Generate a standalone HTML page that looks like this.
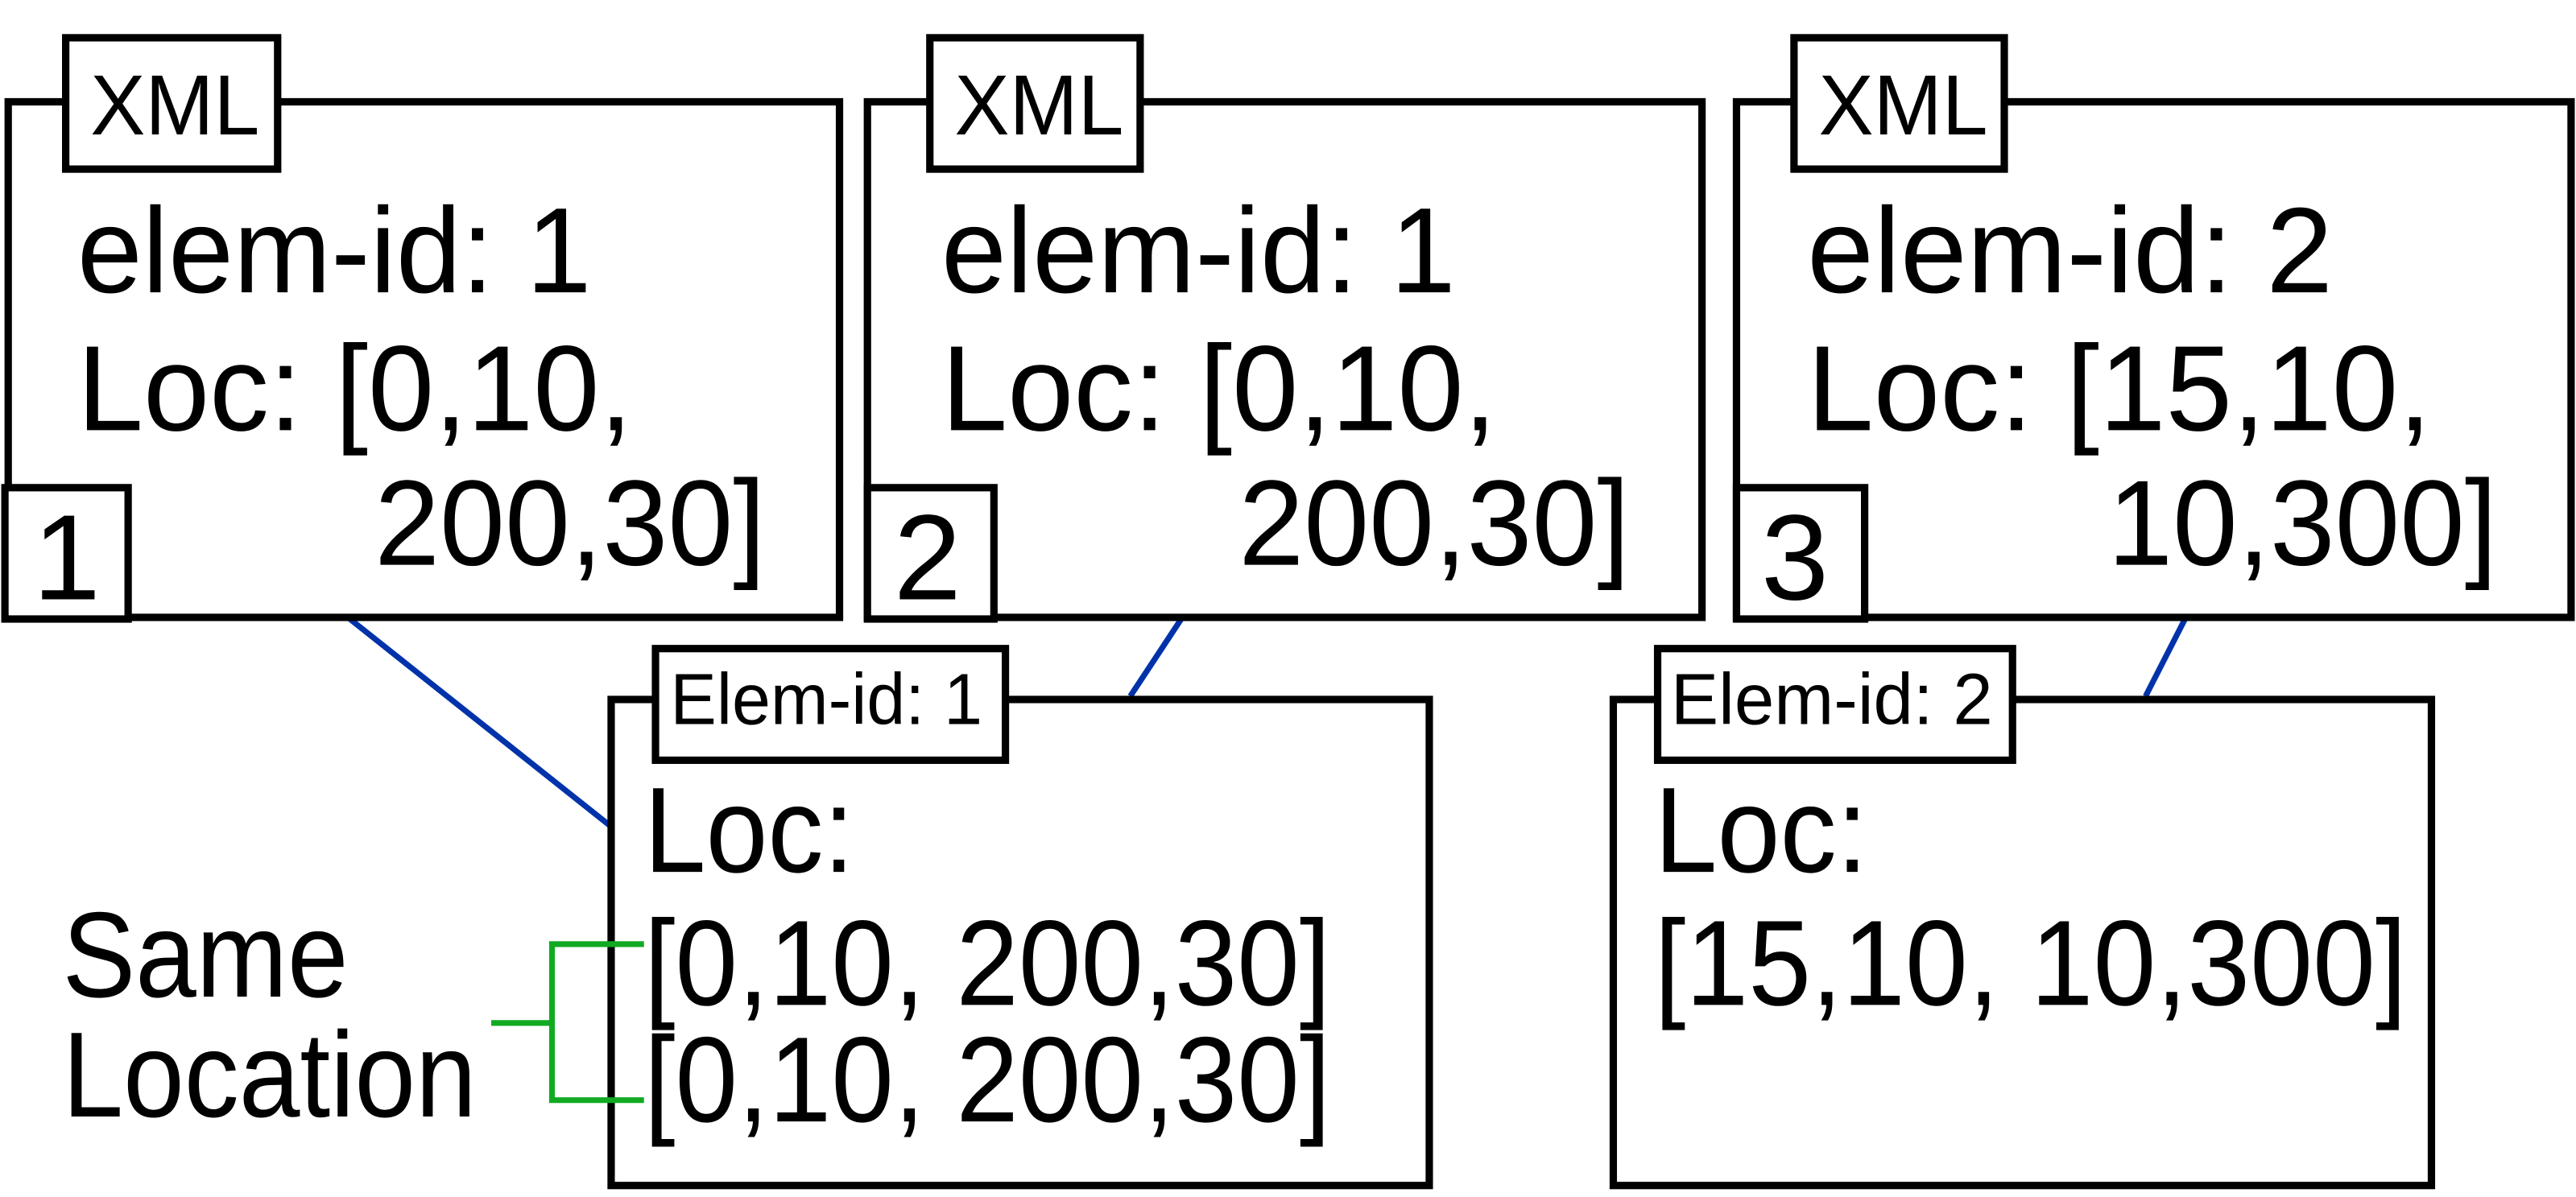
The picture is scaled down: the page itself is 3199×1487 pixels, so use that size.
<!DOCTYPE html>
<html><head><meta charset="utf-8"><style>html,body{margin:0;padding:0;background:#fff}svg{display:block}</style></head>
<body>
<svg width="3199" height="1487" viewBox="0 0 1568 729" preserveAspectRatio="none" xmlns="http://www.w3.org/2000/svg" font-family="'Liberation Sans', Arial, sans-serif">
<g stroke="#0033aa" stroke-width="3.5" fill="none">
<line x1="213" y1="377" x2="374" y2="505"/>
<line x1="719" y1="377" x2="688" y2="424"/>
<line x1="1330" y1="377" x2="1306" y2="424"/>
</g>
<g stroke="#000" stroke-width="4.5" fill="#fff">
<rect x="5" y="62" width="506" height="314"/>
<rect x="40" y="23" width="129" height="80"/>
<rect x="3" y="297" width="75" height="80"/>
<rect x="528" y="62" width="508" height="314"/>
<rect x="566" y="23" width="128" height="80"/>
<rect x="528" y="297" width="77" height="80"/>
<rect x="1057" y="62" width="508" height="314"/>
<rect x="1092" y="23" width="128" height="80"/>
<rect x="1057" y="297" width="78" height="80"/>
<rect x="372" y="426" width="498" height="296"/>
<rect x="399" y="395" width="213" height="68"/>
<rect x="982" y="426" width="498" height="296"/>
<rect x="1009" y="395" width="216" height="68"/>
</g>
<g stroke="#11aa22" stroke-width="3.5" fill="none">
<polyline points="392,575 336,575 336,670 392,670"/>
<line x1="299" y1="623" x2="336" y2="623"/>
</g>
<g fill="#000" lengthAdjust="spacingAndGlyphs">
<text x="55" y="82" font-size="52" textLength="103" lengthAdjust="spacingAndGlyphs">XML</text>
<text x="581" y="82" font-size="52" textLength="103" lengthAdjust="spacingAndGlyphs">XML</text>
<text x="1107" y="82" font-size="52" textLength="103" lengthAdjust="spacingAndGlyphs">XML</text>
<text x="47" y="178" font-size="74" textLength="313" lengthAdjust="spacingAndGlyphs">elem-id: 1</text>
<text x="47" y="262" font-size="74" textLength="338" lengthAdjust="spacingAndGlyphs">Loc: [0,10,</text>
<text x="228" y="344" font-size="74" textLength="238" lengthAdjust="spacingAndGlyphs">200,30]</text>
<text x="573" y="178" font-size="74" textLength="313" lengthAdjust="spacingAndGlyphs">elem-id: 1</text>
<text x="573" y="262" font-size="74" textLength="338" lengthAdjust="spacingAndGlyphs">Loc: [0,10,</text>
<text x="754" y="344" font-size="74" textLength="238" lengthAdjust="spacingAndGlyphs">200,30]</text>
<text x="1100" y="178" font-size="74" textLength="320" lengthAdjust="spacingAndGlyphs">elem-id: 2</text>
<text x="1100" y="262" font-size="74" textLength="380" lengthAdjust="spacingAndGlyphs">Loc: [15,10,</text>
<text x="1283" y="344" font-size="74" textLength="237" lengthAdjust="spacingAndGlyphs">10,300]</text>
<text x="20" y="365" font-size="74">1</text>
<text x="544" y="365" font-size="74">2</text>
<text x="1072" y="365" font-size="74">3</text>
<text x="408" y="441" font-size="44" textLength="190" lengthAdjust="spacingAndGlyphs">Elem-id: 1</text>
<text x="1017" y="441" font-size="44" textLength="196" lengthAdjust="spacingAndGlyphs">Elem-id: 2</text>
<text x="392" y="531" font-size="74" textLength="128" lengthAdjust="spacingAndGlyphs">Loc:</text>
<text x="392" y="612" font-size="74" textLength="418" lengthAdjust="spacingAndGlyphs">[0,10, 200,30]</text>
<text x="392" y="683" font-size="74" textLength="418" lengthAdjust="spacingAndGlyphs">[0,10, 200,30]</text>
<text x="1007" y="531" font-size="74" textLength="130" lengthAdjust="spacingAndGlyphs">Loc:</text>
<text x="1007" y="612" font-size="74" textLength="458" lengthAdjust="spacingAndGlyphs">[15,10, 10,300]</text>
<text x="38" y="607" font-size="74" textLength="174" lengthAdjust="spacingAndGlyphs">Same</text>
<text x="38" y="680" font-size="74" textLength="252" lengthAdjust="spacingAndGlyphs">Location</text>
</g>
</svg>
</body></html>
